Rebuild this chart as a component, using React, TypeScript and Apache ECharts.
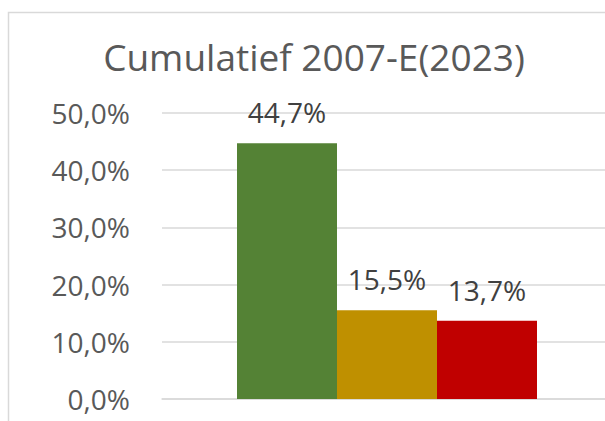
import React, { useEffect, useRef } from "react";
import * as echarts from "echarts";

const categories = ["Cumulatief 2007-E(2023)"];
const seriesNames = ["Reeks 1", "Reeks 2", "Reeks 3"];
const seriesValues = [[44.7], [15.5], [13.7]];
const seriesColors = ["#548235", "#BF9000", "#C00000"];
const titleText = "Cumulatief 2007-E(2023)";
const yMin = 0;
const yMax = 50;
const yInterval = 10;

const fmt = (v: number) => v.toFixed(1).replace(".", ",") + "%";
const FONT = "'Open Sans', 'Noto Sans', sans-serif";

export default function App() {
  const ref = useRef<HTMLDivElement>(null);
  useEffect(() => {
    document.body.style.margin = "0";
    document.body.style.overflow = "hidden";
    if (!ref.current) return;
    const chart = echarts.init(ref.current, undefined, { renderer: "svg" });
    chart.setOption({
      animation: false,
      backgroundColor: "#ffffff",
      title: {
        text: titleText,
        left: 309,
        textAlign: "center",
        top: 33,
        textStyle: {
          fontFamily: FONT,
          fontSize: 37,
          fontWeight: "normal",
          color: "#595959",
        },
      },
      graphic: [
        {
          type: "rect",
          shape: { x: 8.5, y: 12.5, width: 700, height: 500 },
          style: { fill: "none", stroke: "#d9d9d9", lineWidth: 1.5 },
          silent: true,
        },
      ],
      grid: { left: 162, right: 0, top: 113, bottom: 22 },
      xAxis: {
        type: "category",
        data: categories,
        axisLine: { show: true, lineStyle: { color: "#d9d9d9", width: 1.5 } },
        axisTick: { show: false },
        axisLabel: { show: false },
      },
      yAxis: {
        type: "value",
        min: yMin,
        max: yMax,
        interval: yInterval,
        axisLine: { show: false },
        axisTick: { show: false },
        splitLine: { lineStyle: { color: "#d9d9d9", width: 1.5 } },
        axisLabel: {
          formatter: (v: number) => fmt(v),
          fontFamily: FONT,
          fontSize: 28,
          color: "#595959",
          margin: 32,
        },
      },
      series: seriesNames.map((name, i) => ({
        name,
        type: "bar",
        data: seriesValues[i],
        barWidth: 100,
        barGap: "0%",
        itemStyle: { color: seriesColors[i] },
        label: {
          show: true,
          position: "top",
          distance: 17,
          formatter: (p: any) => fmt(p.value),
          fontFamily: FONT,
          fontSize: 28,
          color: "#404040",
        },
      })),
    });
    return () => chart.dispose();
  }, []);
  return (
    <div style={{ width: 605, height: 421, overflow: "hidden" }}>
      <div ref={ref} style={{ width: 612, height: 421 }} />
    </div>
  );
}
